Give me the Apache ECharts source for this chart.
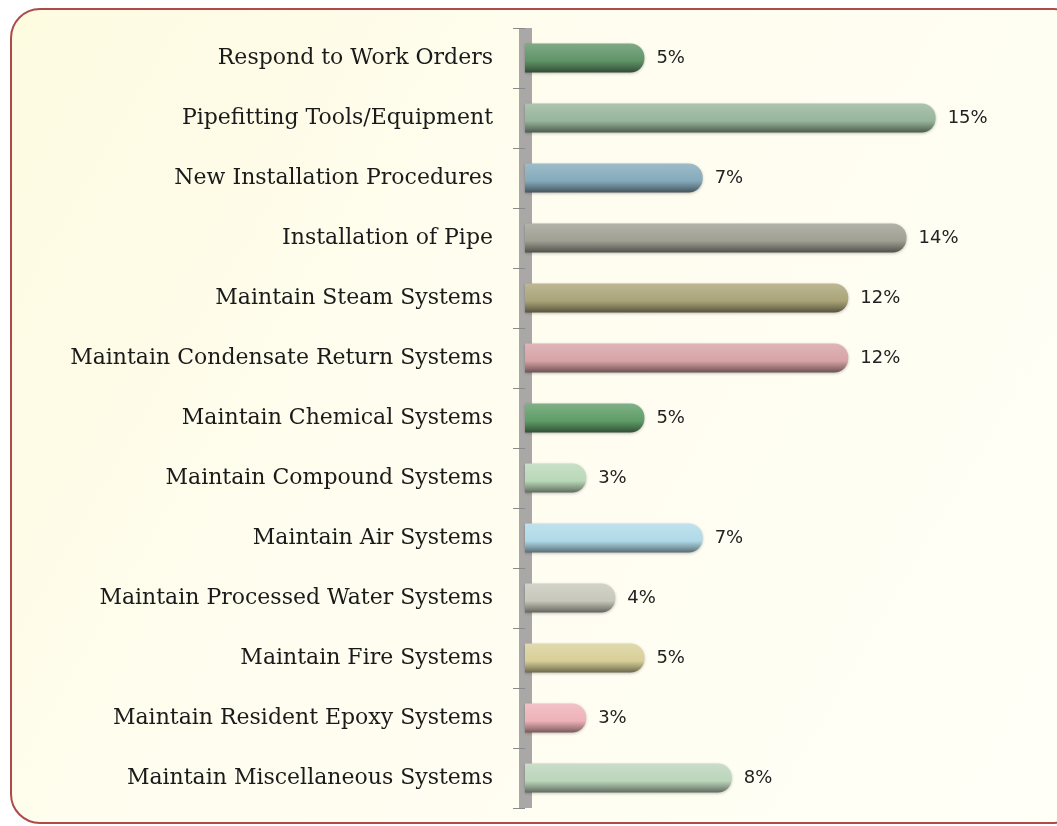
<!DOCTYPE html>
<html>
<head>
<meta charset="utf-8">
<title>Training needs</title>
<script src="https://cdn.jsdelivr.net/npm/echarts@6/dist/echarts.min.js"></script>
<style>
  html, body { margin: 0; padding: 0; background: #ffffff; overflow: hidden; }
  .frame {
    position: absolute; left: 10px; top: 8px; width: 1070px; height: 812px;
    border: 2px solid #ad4a4a; border-radius: 30px;
    background: linear-gradient(120deg, #fdfbe0 0%, #fffdef 40%, #fffff7 100%);
  }
  #chart { position: absolute; left: 0; top: 0; width: 1057px; height: 826px; }
</style>
</head>
<body>
<div class="frame"></div>
<div id="chart"></div>
<script>
  // categories top -> bottom
  var categories = [
    'Respond to Work Orders',
    'Pipefitting Tools/Equipment',
    'New Installation Procedures',
    'Installation of Pipe',
    'Maintain Steam Systems',
    'Maintain Condensate Return Systems',
    'Maintain Chemical Systems',
    'Maintain Compound Systems',
    'Maintain Air Systems',
    'Maintain Processed Water Systems',
    'Maintain Fire Systems',
    'Maintain Resident Epoxy Systems',
    'Maintain Miscellaneous Systems'
  ]
  var percents = [5, 15, 7, 14, 12, 12, 5, 3, 7, 4, 5, 3, 8]

  // bar base colours, same order
  var barColors = ['#5f9467', '#97b59a', '#85aabb', '#a09f93', '#aba478', '#d7a3a6', '#5f9d68',
    '#b9d8b8', '#b0d9e8', '#c8c7bb', '#d8cf98', '#eeb2b8', '#bcd5bb']

  function mix (hex, target, t) {
    var c = parseInt(hex.slice(1), 16)
    var r = (c >> 16) & 255, g = (c >> 8) & 255, b = c & 255
    r = Math.round(r + (target - r) * t)
    g = Math.round(g + (target - g) * t)
    b = Math.round(b + (target - b) * t)
    return 'rgb(' + r + ',' + g + ',' + b + ')'
  }

  // tube look: light top, base middle, dark bottom
  function tube (hex) {
    return new echarts.graphic.LinearGradient(0, 0, 0, 1, [
      { offset: 0, color: mix(hex, 255, 0.2) },
      { offset: 0.3, color: mix(hex, 255, 0.1) },
      { offset: 0.6, color: hex },
      { offset: 0.85, color: mix(hex, 0, 0.3) },
      { offset: 1, color: mix(hex, 0, 0.5) }
    ])
  }

  var chart = echarts.init(document.getElementById('chart'))
  var option = {
    animation: false,
    grid: { left: 525, right: 34, top: 28, bottom: 18, containLabel: false },
    xAxis: {
      type: 'value',
      min: 0.9,
      max: 18,
      show: false
    },
    yAxis: {
      type: 'category',
      inverse: true,
      data: categories,
      axisLine: { show: true, lineStyle: { color: '#a9a8a6', width: 13, cap: 'butt' } },
      axisTick: { show: true, length: 12, lineStyle: { color: '#8a8a8a', width: 1 } },
      axisLabel: {
        margin: 32,
        color: '#1a1a1a',
        fontFamily: 'DejaVu Serif',
        fontSize: 22
      },
      splitLine: { show: false }
    },
    series: [{
      type: 'bar',
      clip: true,
      barWidth: 29,
      data: percents.map(function (v, i) {
        return {
          value: v,
          itemStyle: {
            color: tube(barColors[i]),
            borderRadius: [0, 14, 14, 0],
            shadowColor: 'rgba(0,0,0,0.25)',
            shadowBlur: 3,
            shadowOffsetY: 1
          }
        }
      }),
      label: {
        show: true,
        position: 'right',
        distance: 12,
        formatter: '{c}%',
        color: '#222222',
        fontFamily: 'DejaVu Sans',
        fontSize: 18
      }
    }]
  }
  chart.setOption(option)
  window.addEventListener('resize', function () {
    chart.resize()
  })
</script>
</body>
</html>
